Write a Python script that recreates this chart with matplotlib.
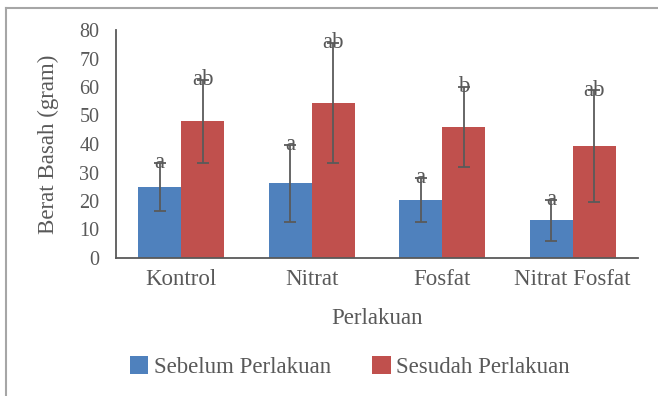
import numpy as np
import matplotlib.pyplot as plt
from matplotlib.lines import Line2D

# berat basah per perlakuan (gram), rata-rata dan simpangan
perlakuan = ['Kontrol', 'Nitrat', 'Fosfat', 'Nitrat Fosfat']
sebelum = [25, 26.2, 20.4, 13.3]
sebelum_sd = [8.5, 13.5, 7.7, 7.2]
sesudah = [48, 54.5, 46, 39.3]
sesudah_sd = [14.5, 21, 14, 19.5]
notasi_sebelum = ['a', 'a', 'a', 'a']
notasi_sesudah = ['ab', 'ab', 'b', 'ab']

plt.rcParams['font.family'] = ['Liberation Serif', 'DejaVu Serif']
teks = '#595959'
biru = '#4F81BD'
merah = '#C0504D'
fs = 16.5

fig = plt.figure(figsize=(6.58, 3.96), dpi=100)
ax = fig.add_axes([116 / 658, 1 - 258 / 396, 522 / 658, 228 / 396])

x = np.arange(len(perlakuan))
w = 0.33
err_kw = dict(ecolor='#5a5a5a', elinewidth=1.3, capsize=4, capthick=1.3)
ax.bar(x - w / 2, sebelum, w, yerr=sebelum_sd, color=biru,
       label='Sebelum Perlakuan', error_kw=err_kw)
ax.bar(x + w / 2, sesudah, w, yerr=sesudah_sd, color=merah,
       label='Sesudah Perlakuan', error_kw=err_kw)

# huruf notasi di ujung error bar
for i in range(len(perlakuan)):
    ax.text(x[i] - w / 2, sebelum[i] + sebelum_sd[i], notasi_sebelum[i],
            ha='center', va='center', fontsize=fs, color=teks)
    ax.text(x[i] + w / 2, sesudah[i] + sesudah_sd[i], notasi_sesudah[i],
            ha='center', va='center', fontsize=fs, color=teks)

ax.set_xlim(-0.5, len(perlakuan) - 0.5)
ax.set_ylim(0, 80)
ax.set_yticks(range(0, 81, 10))
ax.set_xticks(x)
ax.set_xticklabels(perlakuan)
ax.tick_params(axis='both', length=0, labelcolor=teks)
ax.tick_params(axis='y', pad=12, labelsize=14.5)
ax.tick_params(axis='x', pad=8, labelsize=fs)

for s in ['top', 'right']:
    ax.spines[s].set_visible(False)
for s in ['left', 'bottom']:
    ax.spines[s].set_color('#595959')
    ax.spines[s].set_linewidth(1.3)

ax.set_ylabel('Berat Basah (gram)', fontsize=fs, color=teks)
ax.yaxis.set_label_coords(-57 / 522, 0.5)
ax.set_xlabel('Perlakuan', fontsize=fs, color=teks)
ax.xaxis.set_label_coords(0.5, -50 / 228)

ax.legend(loc='center', bbox_to_anchor=(350 / 658, 1 - 367 / 396),
          bbox_transform=fig.transFigure, ncol=2, frameon=False,
          fontsize=fs, labelcolor=teks, handlelength=0.8, handleheight=0.8,
          handletextpad=0.25, columnspacing=1.8)

# bingkai area chart
fig.add_artist(Line2D([6 / 658, 6 / 658], [0, 1 - 8 / 396],
                      transform=fig.transFigure, color='#a6a6a6', lw=1.5))
fig.add_artist(Line2D([6 / 658, 1], [1 - 8 / 396, 1 - 8 / 396],
                      transform=fig.transFigure, color='#a6a6a6', lw=1.5))

fig.savefig('out.png', dpi=100)
